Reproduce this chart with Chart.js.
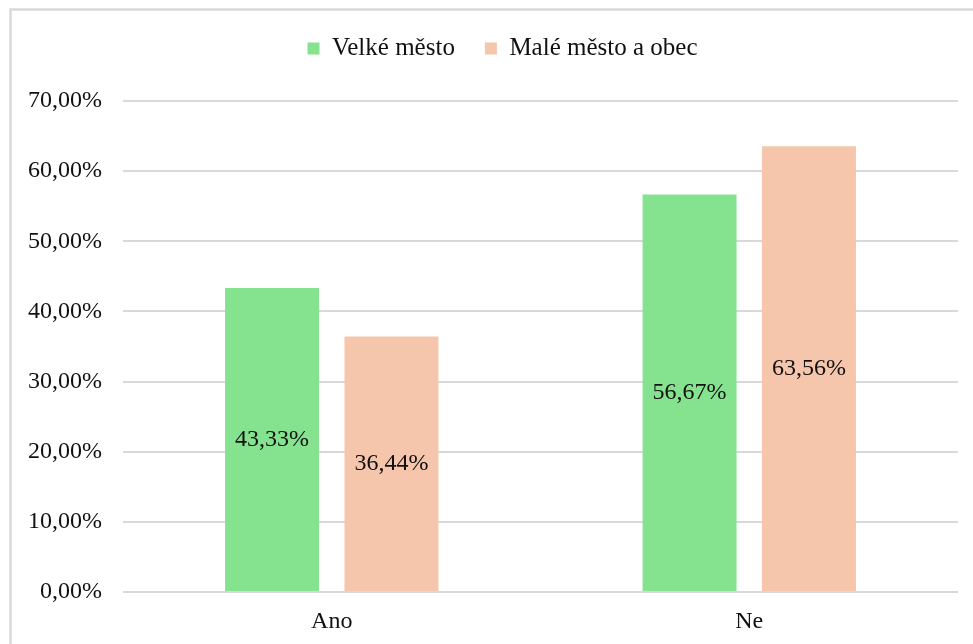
<!DOCTYPE html>
<html lang="cs">
<head>
<meta charset="UTF-8">
<title>Velké město / Malé město a obec</title>
<script src="https://cdn.jsdelivr.net/npm/chart.js"></script>
<style>
  html, body { margin: 0; padding: 0; background: #fff; }
  #wrap { width: 973px; height: 644px; position: relative; }
</style>
</head>
<body>
<div id="wrap"><canvas id="graf"></canvas></div>
<script>
// data
const kategorie = ['Ano', 'Ne'];
const velkeMesto = [43.33, 56.67];
const maleMesto = [36.44, 63.56];
const nazvySerii = ['Velké město', 'Malé město a obec'];
const barvy = ['#85E28F', '#F5C6AB'];

const pismo = "'Liberation Serif', 'Times New Roman', serif";
const velikost = 24;

function formatProcenta(v) {
    return v.toFixed(2).replace('.', ',') + '%';
}

// ramecek kolem grafu
const ramecek = {
    id: 'ramecek',
    beforeDraw(chart) {
        const ctx = chart.ctx;
        ctx.save();
        ctx.strokeStyle = '#d9d9d9';
        ctx.lineWidth = 2.5;
        ctx.beginPath();
        ctx.moveTo(10.5, 650);
        ctx.lineTo(10.5, 9.5);
        ctx.lineTo(980, 9.5);
        ctx.stroke();
        ctx.restore();
    }
};

// vic mista pod legendou, legenda trochu vpravo
const upravaLegendy = {
    id: 'upravaLegendy',
    beforeLayout(chart) {
        const l = chart.legend;
        if (l && !l._upraveno) {
            const puvodni = l.fit;
            l.fit = function () {
                puvodni.call(this);
                this.height += 30;
            };
            l._upraveno = true;
        }
    },
    afterLayout(chart) {
        const l = chart.legend;
        if (l) {
            l.left += 20;
            l.right += 20;
        }
    }
};

// popisky hodnot uprostred sloupcu
const popisky = {
    id: 'popisky',
    afterDatasetsDraw(chart) {
        const ctx = chart.ctx;
        ctx.save();
        ctx.font = velikost + 'px ' + pismo;
        ctx.fillStyle = '#111';
        ctx.textAlign = 'center';
        ctx.textBaseline = 'middle';
        chart.data.datasets.forEach((ds, i) => {
            chart.getDatasetMeta(i).data.forEach((bar, j) => {
                ctx.fillText(formatProcenta(ds.data[j]), bar.x, (bar.y + bar.base) / 2);
            });
        });
        ctx.restore();
    }
};

new Chart(document.getElementById('graf').getContext('2d'), {
    type: 'bar',
    data: {
        labels: kategorie,
        datasets: [
            { label: nazvySerii[0], data: velkeMesto, backgroundColor: barvy[0] },
            { label: nazvySerii[1], data: maleMesto, backgroundColor: barvy[1] }
        ]
    },
    options: {
        responsive: true,
        maintainAspectRatio: false,
        animation: false,
        categoryPercentage: 0.572,
        barPercentage: 0.787,
        layout: { padding: { top: 6, left: 7, right: 15, bottom: 6 } },
        plugins: {
            tooltip: { enabled: false },
            legend: {
                position: 'top',
                labels: {
                    font: { family: pismo, size: 25 },
                    color: '#111',
                    boxWidth: 12,
                    boxHeight: 12,
                    padding: 30
                }
            }
        },
        scales: {
            y: {
                min: 0,
                max: 70,
                ticks: {
                    stepSize: 10,
                    padding: 21,
                    color: '#111',
                    font: { family: pismo, size: velikost },
                    callback: v => formatProcenta(v)
                },
                grid: { color: '#d9d9d9', lineWidth: 2, drawTicks: false },
                border: { display: false }
            },
            x: {
                afterFit(scale) { scale.height = 46; },
                ticks: {
                    padding: 15,
                    color: '#111',
                    font: { family: pismo, size: velikost }
                },
                grid: { display: false, drawTicks: false },
                border: { display: false }
            }
        }
    },
    plugins: [ramecek, upravaLegendy, popisky]
});
</script>
</body>
</html>
